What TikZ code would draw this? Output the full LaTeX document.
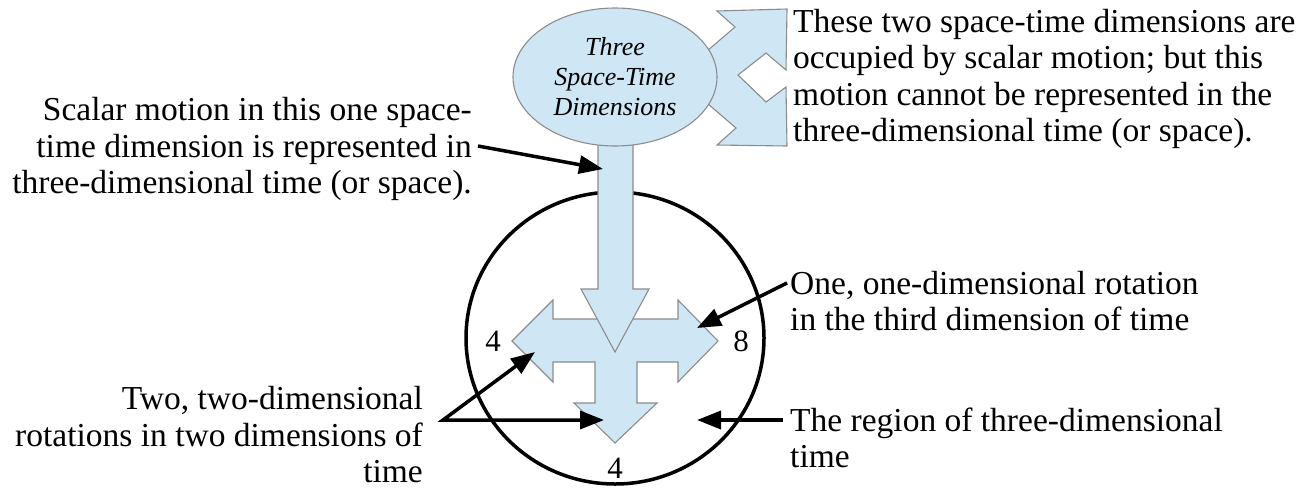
\documentclass[tikz,border=0pt]{standalone}
\usepackage{fontspec}
\setmainfont{Liberation Serif}
\usetikzlibrary{shapes.geometric, arrows.meta}
\definecolor{paleBlue}{RGB}{207,231,245}
\definecolor{edgeGray}{RGB}{140,140,140}
\newcommand\noteFont{\fontsize{33.5}{36.5}\selectfont}
\newcommand\dimFont{\fontsize{26}{30}\selectfont\itshape}
\newcommand\headTip{Triangle[length=24pt,width=18pt]}
\tikzset{
    pale/.style={fill=paleBlue, draw=edgeGray, line width=1.1pt, line join=miter},
    note/.style={font=\noteFont, inner sep=0pt},
    count/.style={font=\fontsize{31}{34}\selectfont, inner sep=0pt},
    pointer/.style={line width=3.5pt, -{\headTip}},
}

\begin{document}
\begin{tikzpicture}[x=1pt, y=-1pt]
    \useasboundingbox (0,0) rectangle (1298,491);

    % region of time
    \draw[line width=3.5pt] (615,338) ellipse [x radius=149, y radius=146];

    % the two dimensions that cannot be shown
    \draw[pale] (717,11) -- (787,9) -- (786,70) -- (766,53) -- (738,75) -- (766,102)
        -- (786,87) -- (787,146) -- (717,145) -- (736,128) -- (700,97) -- (700,57)
        -- (735,27) -- cycle;

    % rotations: left, right and down
    \draw[pale] (512,341) -- (553,300) -- (553,319) -- (678,319) -- (678,300) -- (718,341)
        -- (678,382) -- (678,362) -- (637,362) -- (637,403) -- (657,403) -- (615,443)
        -- (574,403) -- (595,403) -- (595,362) -- (553,362) -- (553,382) -- cycle;

    % scalar motion coming down
    \draw[pale] (598,120) -- (633,120) -- (633,289) -- (649,289) -- (615,352)
        -- (581,289) -- (598,289) -- cycle;

    \node[ellipse, pale, minimum width=204, minimum height=138, inner sep=0pt,
        align=center, font=\dimFont] (dims) at (615,77) {Three\\Space-Time\\Dimensions};

    \node[count] (leftFour) at (493,341) {4};
    \node[count] (rightEight) at (741,341) {8};
    \node[count] (downFour) at (615,468) {4};

    % notes
    \node[note, anchor=east, align=right] (scalarNote) at (472,149)
        {Scalar motion in this one space-\\time dimension is represented in\\three-dimensional time (or space).};
    \node[note, anchor=west, align=left] (hiddenNote) at (793,79)
        {These two space-time dimensions are\\occupied by scalar motion; but this\\motion cannot be represented in the\\three-dimensional time (or space).};
    \node[note, anchor=west, align=left] (oneNote) at (790,301)
        {One, one-dimensional rotation\\in the third dimension of time};
    \node[note, anchor=east, align=right] (twoNote) at (423,435)
        {Two, two-dimensional\\rotations in two dimensions of\\time};
    \node[note, anchor=west, align=left] (regionNote) at (790,438)
        {The region of three-dimensional\\time};

    % pointers
    \coordinate (scalarTail) at (478,146);
    \coordinate (scalarTip) at (603,169);
    \coordinate (oneTail) at (787,283);
    \coordinate (oneTip) at (697,328);
    \coordinate (twoTail) at (443,420);
    \coordinate (twoUpTip) at (535,352);
    \coordinate (twoMidTip) at (604,420);
    \coordinate (regionTail) at (783,420);
    \coordinate (regionTip) at (697,420);

    \draw[pointer] (scalarTail) -- (scalarTip);
    \draw[pointer] (oneTail) -- (oneTip);
    \draw[pointer, {\headTip}-{\headTip}, line join=miter] (twoUpTip) -- (twoTail) -- (twoMidTip);
    \draw[pointer] (regionTail) -- (regionTip);
\end{tikzpicture}
\end{document}
